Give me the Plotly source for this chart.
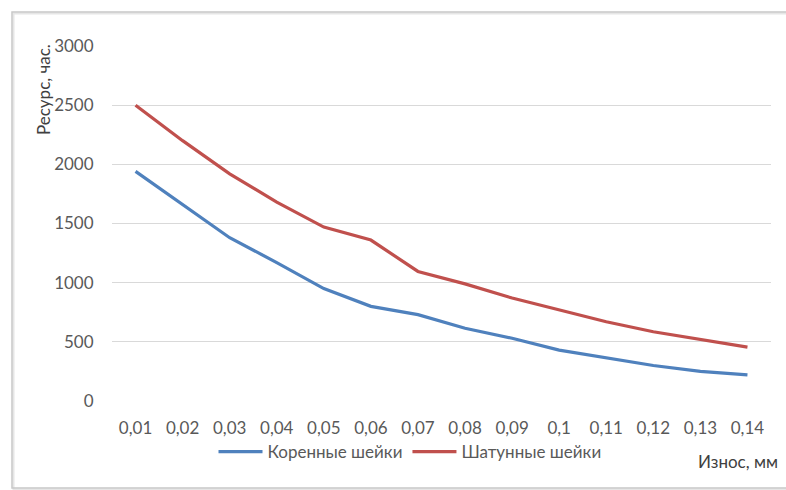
import plotly.graph_objects as go

# Wear amount (mm) categories and service life (hours) for two journal types
wear_labels = ["0,01", "0,02", "0,03", "0,04", "0,05", "0,06", "0,07",
               "0,08", "0,09", "0,1", "0,11", "0,12", "0,13", "0,14"]
main_journals = [1940, 1660, 1380, 1170, 950, 800, 730,
                 615, 530, 430, 365, 300, 250, 220]
rod_journals = [2500, 2200, 1920, 1680, 1470, 1360, 1095,
                990, 870, 770, 670, 585, 520, 455]

y_ticks = [0, 500, 1000, 1500, 2000, 2500, 3000]

FONT = "Lato, Carlito, Calibri, sans-serif"
TEXT_COLOR = "#595959"

W, H = 786, 490
L, R, T, B = 112, 15, 46, 89
plot_w = W - L - R
plot_h = H - T - B


def px_x(px):
    return (px - L) / plot_w


def px_y(py):
    return (H - B - py) / plot_h


fig = go.Figure()
fig.add_trace(go.Scatter(
    x=wear_labels, y=main_journals, mode="lines", name="Коренные шейки",
    line=dict(color="#4F81BD", width=3.2),
))
fig.add_trace(go.Scatter(
    x=wear_labels, y=rod_journals, mode="lines", name="Шатунные шейки",
    line=dict(color="#C0504D", width=3.2),
))

fig.update_layout(
    width=W, height=H,
    margin=dict(l=L, r=R, t=T, b=B, pad=0),
    paper_bgcolor="white", plot_bgcolor="white",
    font=dict(family=FONT, size=17, color=TEXT_COLOR),
    showlegend=True,
    legend=dict(
        orientation="h", x=px_x(410), y=px_y(452),
        xanchor="center", yanchor="middle",
        font=dict(size=17, color=TEXT_COLOR),
        itemwidth=44, tracegroupgap=0,
        bgcolor="rgba(0,0,0,0)",
    ),
    xaxis=dict(
        type="category", showgrid=False, zeroline=False, showline=False,
        ticks="outside", ticklen=12, tickcolor="rgba(0,0,0,0)",
        tickfont=dict(size=17, color=TEXT_COLOR),
        range=[-0.5, len(wear_labels) - 0.5],
    ),
    yaxis=dict(
        range=[0, 3000], tickvals=y_ticks, showgrid=True,
        gridcolor="#d9d9d9", gridwidth=1, zeroline=False, showline=False,
        ticks="outside", ticklen=14, tickcolor="rgba(0,0,0,0)",
        tickfont=dict(size=17, color=TEXT_COLOR),
    ),
    shapes=[
        # outer chart frame with a faint shadow line
        dict(type="rect", xref="paper", yref="paper",
             x0=px_x(13.5), x1=px_x(801.5), y0=px_y(489.5), y1=px_y(13.5),
             line=dict(color="#e6e6e6", width=2), layer="below"),
        dict(type="rect", xref="paper", yref="paper",
             x0=px_x(12), x1=px_x(800), y0=px_y(488), y1=px_y(12),
             line=dict(color="#c8c8c8", width=1.5), layer="below"),
    ],
    annotations=[
        dict(text="Ресурс, час.", xref="paper", yref="paper",
             x=px_x(44), y=px_y(90), textangle=-90, showarrow=False,
             xanchor="center", yanchor="middle",
             font=dict(size=17, color="#404040")),
        dict(text="Износ, мм", xref="paper", yref="paper",
             x=px_x(780), y=px_y(461), showarrow=False,
             xanchor="right", yanchor="middle",
             font=dict(size=17, color="#404040")),
    ],
)

fig.write_html("out.html")
